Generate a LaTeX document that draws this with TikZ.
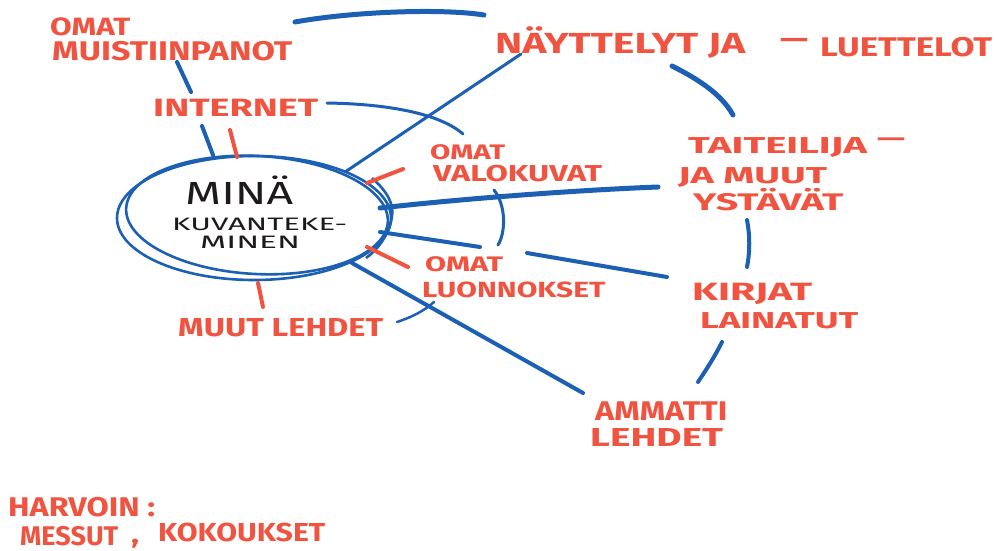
\documentclass[tikz,border=0pt]{standalone}
\usepackage{fontspec}
\setmainfont{Fira Sans}
\usepackage{graphicx}
\definecolor{pen}{RGB}{240,84,64}
\definecolor{ink}{RGB}{28,96,180}
\definecolor{dark}{RGB}{30,26,26}
\newcommand{\hw}[3]{\resizebox{#2pt}{\height}{\fontsize{#1}{#1}\selectfont #3}}
\tikzset{
  lbl/.style={anchor=base west, inner sep=0pt, text=pen, font=\bfseries},
  dsh/.style={anchor=center, inner sep=0pt, text=pen, font=\bfseries},
  blk/.style={anchor=base west, inner sep=0pt, text=dark},
  link/.style={draw=ink, line width=4pt, line cap=round},
  thin link/.style={draw=ink, line width=3pt, line cap=round},
  tick/.style={draw=pen, line width=4pt, line cap=round},
  ring/.style={draw=ink, line width=2.6pt}
}
\begin{document}
\begin{tikzpicture}[x=1pt,y=-1pt]
\useasboundingbox[fill=white] (0,0) rectangle (996,551);

% central ellipse (double hand-drawn ring)
\draw[ring] (254,218) ellipse [x radius=137, y radius=62];
\draw[ring] (257,215) ellipse [x radius=131, y radius=59, rotate=-3];
\coordinate (rA) at (372,178);
\coordinate (rB) at (392,216);
\coordinate (rC) at (366,258);
\draw[ring] (rA) .. controls (388,192) and (394,205) .. (rB) .. controls (390,232) and (380,248) .. (rC);

% centre text
\node[blk] (mina) at (185,204) {\hw{32}{108}{MINÄ}};
\node[blk] (kuva) at (172,230) {\hw{18}{175}{KUVANTEKE-}};
\node[blk] (minen) at (200,248) {\hw{18}{100}{MINEN}};

% red labels
\node[lbl] (omat1) at (50,36) {\hw{25}{80}{OMAT}};
\node[lbl] (muist) at (52,60) {\hw{27}{240}{MUISTIINPANOT}};
\node[lbl] (inter) at (153,117) {\hw{25}{165}{INTERNET}};
\node[lbl] (nayt) at (495,54) {\hw{29}{250}{NÄYTTELYT JA}};
\node[dsh] (dash1) at (794,43) {\hw{27}{28}{—}};
\node[lbl] (luet) at (820,57) {\hw{27}{172}{LUETTELOT}};
\node[lbl] (omat2) at (430,159) {\hw{21}{75}{OMAT}};
\node[lbl] (valo) at (433,181) {\hw{23}{169}{VALOKUVAT}};
\node[lbl] (taite) at (688,153) {\hw{23}{179}{TAITEILIJA}};
\node[dsh] (dash2) at (891,142) {\hw{23}{28}{—}};
\node[lbl] (jamuut) at (678,183) {\hw{23}{149}{JA MUUT}};
\node[lbl] (ystav) at (693,210) {\hw{24}{150}{YSTÄVÄT}};
\node[lbl] (omat3) at (425,271) {\hw{21}{78}{OMAT}};
\node[lbl] (luonn) at (422,297) {\hw{22}{183}{LUONNOKSET}};
\node[lbl] (kirjat) at (692,300) {\hw{25}{120}{KIRJAT}};
\node[lbl] (laina) at (700,328) {\hw{23}{158}{LAINATUT}};
\node[lbl] (muut) at (178,336) {\hw{26}{205}{MUUT LEHDET}};
\node[lbl] (ammatti) at (595,420) {\hw{27}{132}{AMMATTI}};
\node[lbl] (lehdet) at (590,446) {\hw{26}{133}{LEHDET}};
\node[lbl] (harv) at (8,516) {\hw{27}{147}{HARVOIN :}};
\node[lbl] (messut) at (20,545) {\hw{27}{98}{MESSUT}};
\node[lbl] (comma) at (131,543) {\hw{27}{8}{,}};
\node[lbl] (kokous) at (158,541) {\hw{26}{167}{KOKOUKSET}};

% blue connector stroke ends
\coordinate (t1) at (295,22);   \coordinate (t2) at (484,15);
\coordinate (b1) at (672,66);   \coordinate (b2) at (733,115);
\coordinate (c1) at (177,62);   \coordinate (c2) at (191,92);
\coordinate (d1) at (202,126);  \coordinate (d2) at (213,155);
\coordinate (e1) at (327,103);  \coordinate (e2) at (463,134);
\coordinate (f1) at (345,172);  \coordinate (f2) at (521,54);
\coordinate (g1) at (380,208);  \coordinate (g2) at (658,187);
\coordinate (h1) at (494,190);  \coordinate (h2) at (498,245);
\coordinate (i1) at (380,232);  \coordinate (i2) at (480,247);
\coordinate (j1) at (527,253);  \coordinate (j2) at (667,277);
\coordinate (k1) at (747,220);  \coordinate (k2) at (747,267);
\coordinate (l1) at (722,342);  \coordinate (l2) at (698,382);
\coordinate (m1) at (352,263);  \coordinate (m2) at (583,393);
\coordinate (n1) at (397,322);  \coordinate (n2) at (434,302);

\draw[link, line width=5pt] (t1) .. controls (350,12) and (440,8) .. (t2);
\draw[link, line width=5pt] (b1) .. controls (700,80) and (722,95) .. (b2);
\draw[link] (c1) -- (c2);
\draw[link] (d1) -- (d2);
\draw[thin link] (e1) .. controls (390,104) and (440,114) .. (e2);
\draw[thin link] (f1) -- (f2);
\draw[link, line width=5pt] (g1) .. controls (470,198) and (580,190) .. (g2);
\draw[thin link] (h1) .. controls (506,205) and (506,232) .. (h2);
\draw[link] (i1) -- (i2);
\draw[link] (j1) -- (j2);
\draw[link] (k1) .. controls (750,235) and (750,252) .. (k2);
\draw[link] (l1) .. controls (714,358) and (706,370) .. (l2);
\draw[link] (m1) -- (m2);
\draw[thin link, line width=2.5pt] (n1) .. controls (412,317) and (424,311) .. (n2);

% red ticks
\coordinate (r1a) at (230,130); \coordinate (r1b) at (237,157);
\coordinate (r2a) at (367,183); \coordinate (r2b) at (403,169);
\coordinate (r3a) at (367,247); \coordinate (r3b) at (408,267);
\coordinate (r4a) at (258,283); \coordinate (r4b) at (263,307);
\draw[tick] (r1a) -- (r1b);
\draw[tick] (r2a) -- (r2b);
\draw[tick] (r3a) -- (r3b);
\draw[tick] (r4a) -- (r4b);
\end{tikzpicture}
\end{document}
